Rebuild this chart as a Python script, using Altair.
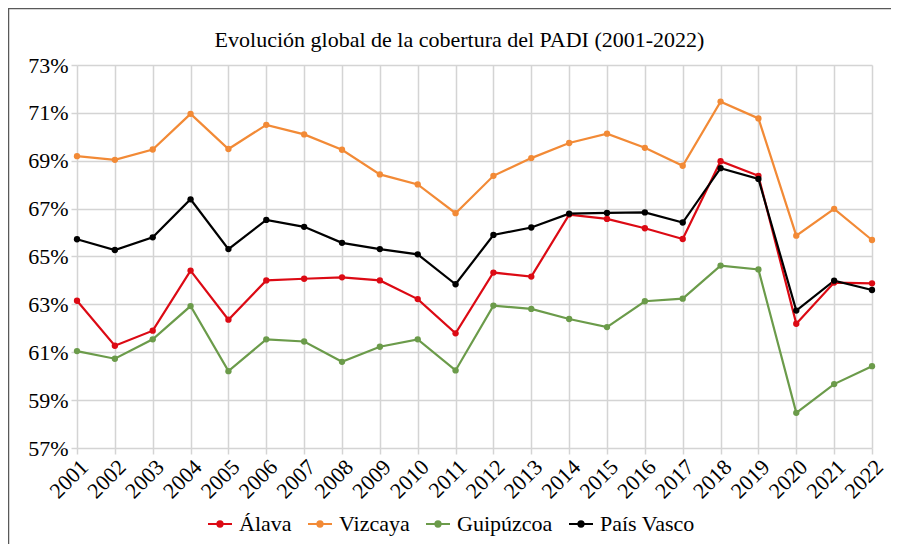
import altair as alt
import pandas as pd

years = [str(y) for y in range(2001, 2023)]
alava = [63.15, 61.27, 61.90, 64.41, 62.36, 64.00, 64.07, 64.13, 64.00, 63.22, 61.79,
         64.33, 64.16, 66.75, 66.57, 66.18, 65.73, 68.98, 68.37, 62.19, 63.91, 63.88]
vizcaya = [69.19, 69.04, 69.47, 70.96, 69.49, 70.50, 70.10, 69.46, 68.43, 68.01, 66.81,
           68.37, 69.11, 69.74, 70.13, 69.54, 68.79, 71.47, 70.77, 65.87, 66.99, 65.69]
guipuzcoa = [61.05, 60.73, 61.54, 62.93, 60.21, 61.54, 61.45, 60.60, 61.23, 61.54, 60.24,
             62.95, 62.81, 62.39, 62.05, 63.13, 63.24, 64.62, 64.46, 58.47, 59.67, 60.42]
pais_vasco = [65.72, 65.27, 65.80, 67.39, 65.31, 66.53, 66.24, 65.57, 65.31, 65.09, 63.84,
              65.90, 66.21, 66.79, 66.82, 66.84, 66.42, 68.69, 68.24, 62.74, 63.99, 63.60]

series_names = ["Álava", "Vizcaya", "Guipúzcoa", "País Vasco"]
series_colors = ["#DC0A14", "#F28A36", "#6B9B4A", "#000000"]
y_ticks = [0.57, 0.59, 0.61, 0.63, 0.65, 0.67, 0.69, 0.71, 0.73]
title_text = "Evolución global de la cobertura del PADI (2001-2022)"

rows = []
for name, vals in zip(series_names, [alava, vizcaya, guipuzcoa, pais_vasco]):
    for yr, v in zip(years, vals):
        rows.append({"Año": yr, "Serie": name, "Valor": v / 100.0})
df = pd.DataFrame(rows)

FONT = "Liberation Serif"

x_enc = alt.X("Año:O", scale=alt.Scale(type="point", padding=0),
              axis=alt.Axis(title=None, labelAngle=-45, labelFontSize=22, labelColor="#000000",
                            labelFont=FONT, labelFontWeight="normal",
                            grid=True, gridColor="#D4D4D4", gridWidth=1.5, domain=False,
                            tickColor="#D4D4D4", tickWidth=1.5, tickSize=6, labelPadding=2))
y_enc = alt.Y("Valor:Q", scale=alt.Scale(domain=[0.57, 0.73], nice=False, zero=False),
              axis=alt.Axis(title=None, values=y_ticks, format=".0%", labelFontSize=22,
                            labelFont=FONT, labelFontWeight="normal",
                            labelColor="#000000", grid=True, gridColor="#D4D4D4", gridWidth=1.5,
                            domain=False, tickColor="#D4D4D4", tickWidth=1.5, tickSize=6,
                            labelPadding=3))
legend_symbol = ("M-1,0L1,0M0.22,0A0.22,0.22,0,1,1,-0.22,0A0.22,0.22,0,1,1,0.22,0Z"
                 "M0.1,0A0.1,0.1,0,1,1,-0.1,0A0.1,0.1,0,1,1,0.1,0Z")
color_enc = alt.Color("Serie:N", sort=series_names,
                      scale=alt.Scale(domain=series_names, range=series_colors),
                      legend=alt.Legend(title=None, orient="none", direction="horizontal",
                                        legendX=130, legendY=446, labelFontSize=22,
                                        labelFont=FONT, labelFontWeight="normal",
                                        labelColor="#000000", symbolType=legend_symbol,
                                        symbolSize=576, symbolStrokeWidth=2,
                                        columnPadding=12, labelOffset=6))

base = alt.Chart(df)
lines = base.mark_line(strokeWidth=2.2).encode(x=x_enc, y=y_enc, color=color_enc,
                                               order=alt.Order("Año:O"))
points = base.mark_point(filled=True, size=40, opacity=1).encode(
    x=x_enc, y=y_enc, color=alt.Color("Serie:N", sort=series_names,
                                      scale=alt.Scale(domain=series_names, range=series_colors),
                                      legend=None))

frame_df = pd.DataFrame({"k": [0]})
frame = alt.Chart(frame_df).mark_rect(fill=None, stroke="#595959", strokeWidth=1.5, clip=False).encode(
    x=alt.value(-68.5), x2=alt.value(900), y=alt.value(-56.5), y2=alt.value(700))

chart = alt.layer(frame, lines, points).properties(
    width=795, height=383,
    padding={"left": 69, "top": 57, "right": 19, "bottom": 96},
    autosize=alt.AutoSizeParams(type="none"),
    title=alt.Title(title_text, fontSize=22, font=FONT, fontWeight="normal", color="#000000",
                    anchor="middle", frame="group", dx=-15, offset=-61, baseline="alphabetic"),
).configure(font=FONT).configure_view(stroke=None)

chart.save("out.html", embed_options={"renderer": "svg", "actions": False})
